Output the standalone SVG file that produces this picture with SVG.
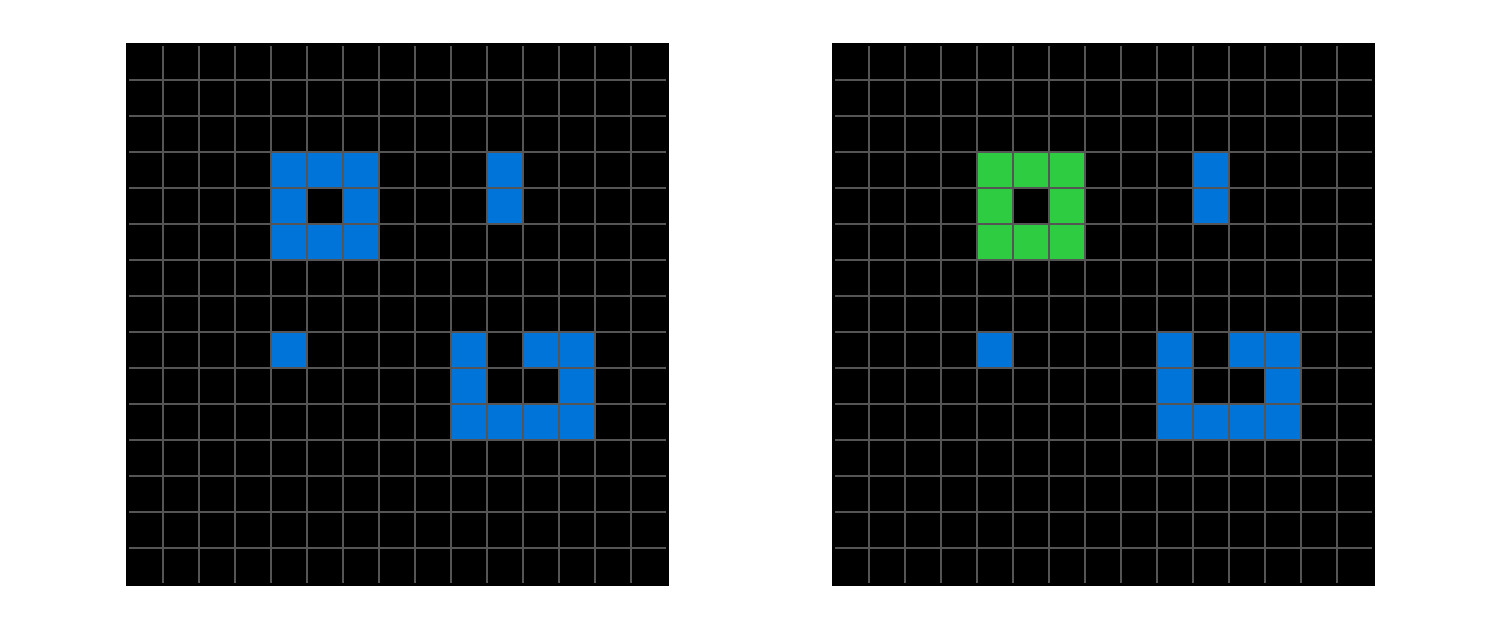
<svg xmlns="http://www.w3.org/2000/svg" width="1500" height="629" viewBox="0 0 1500 629">
<style>
.bg{fill:#000000}
.b{fill:#0074D9}
.g{fill:#2ECC40}
.gl{stroke:#555555;stroke-width:2;fill:none}
</style>
<defs>
<g id="lines">
<path class="gl" d="M36 2V539M72 2V539M108 2V539M144 2V539M180 2V539M216 2V539M252 2V539M288 2V539M324 2V539M360 2V539M396 2V539M432 2V539M468 2V539M504 2V539M2 36H539M2 72H539M2 108H539M2 144H539M2 180H539M2 216H539M2 252H539M2 288H539M2 324H539M2 360H539M2 396H539M2 432H539M2 468H539M2 504H539"/>
</g>
<g id="common">
<rect class="b" x="360" y="108" width="36" height="72"/>
<rect class="b" x="144" y="288" width="36" height="36"/>
<rect class="b" x="324" y="288" width="36" height="108"/>
<rect class="b" x="396" y="288" width="72" height="36"/>
<rect class="b" x="432" y="324" width="36" height="72"/>
<rect class="b" x="360" y="360" width="72" height="36"/>
</g>
</defs>
<rect width="1500" height="629" fill="#ffffff"/>
<g id="grid-left" transform="translate(127,44)">
<rect class="bg" x="-1" y="-1" width="543" height="543"/>
<use href="#common"/>
<path class="b" d="M144 108H252V216H144ZM180 144V180H216V144Z" fill-rule="evenodd"/>
<use href="#lines"/>
</g>
<g id="grid-right" transform="translate(833,44)">
<rect class="bg" x="-1" y="-1" width="543" height="543"/>
<use href="#common"/>
<path class="g" d="M144 108H252V216H144ZM180 144V180H216V144Z" fill-rule="evenodd"/>
<use href="#lines"/>
</g>
</svg>
